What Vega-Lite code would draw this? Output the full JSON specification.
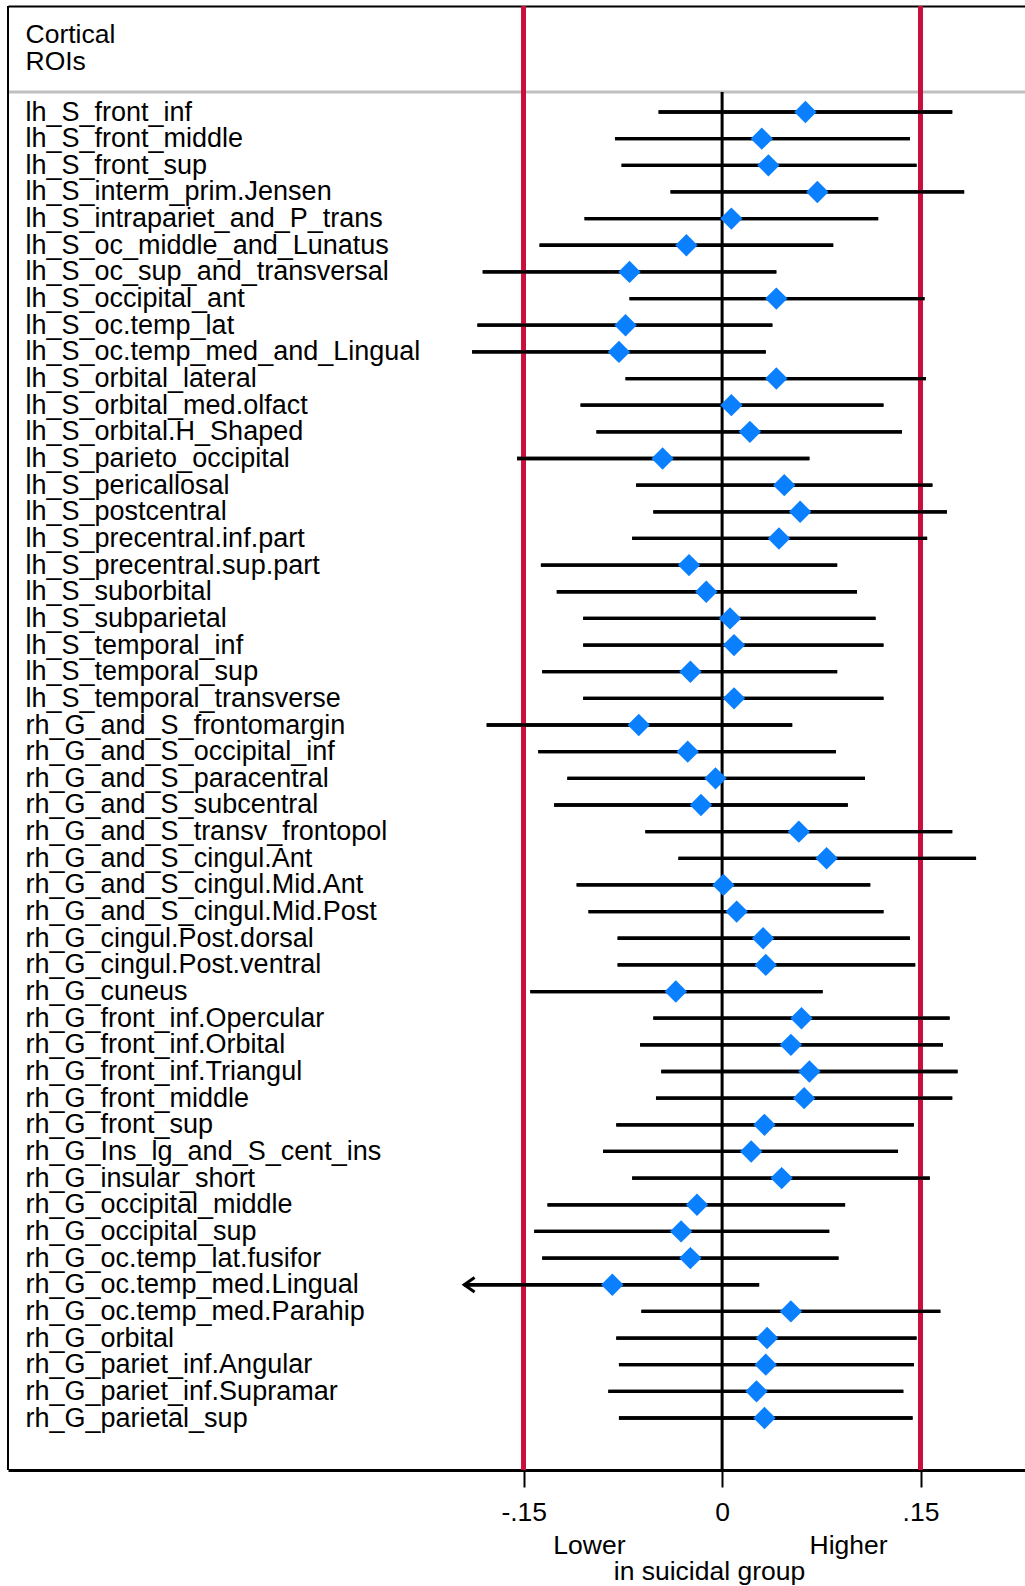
{
  "$schema": "https://vega.github.io/schema/vega-lite/v6.json",
  "width": 1017,
  "height": 1464,
  "autosize": {"type": "none"},
  "padding": {"left": 8, "top": 6, "right": 0, "bottom": 116},
  "background": "white",
  "config": {"view": {"stroke": null}, "font": "Liberation Sans"},
  "data": {"values": [
    {"roi": "lh_S_front_inf", "lo": -0.048, "est": 0.063, "hi": 0.174},
    {"roi": "lh_S_front_middle", "lo": -0.081, "est": 0.030, "hi": 0.142},
    {"roi": "lh_S_front_sup", "lo": -0.076, "est": 0.035, "hi": 0.147},
    {"roi": "lh_S_interm_prim.Jensen", "lo": -0.039, "est": 0.072, "hi": 0.183},
    {"roi": "lh_S_intrapariet_and_P_trans", "lo": -0.104, "est": 0.007, "hi": 0.118},
    {"roi": "lh_S_oc_middle_and_Lunatus", "lo": -0.138, "est": -0.027, "hi": 0.084},
    {"roi": "lh_S_oc_sup_and_transversal", "lo": -0.181, "est": -0.070, "hi": 0.041},
    {"roi": "lh_S_occipital_ant", "lo": -0.070, "est": 0.041, "hi": 0.153},
    {"roi": "lh_S_oc.temp_lat", "lo": -0.185, "est": -0.073, "hi": 0.038},
    {"roi": "lh_S_oc.temp_med_and_Lingual", "lo": -0.189, "est": -0.078, "hi": 0.033},
    {"roi": "lh_S_orbital_lateral", "lo": -0.073, "est": 0.041, "hi": 0.154},
    {"roi": "lh_S_orbital_med.olfact", "lo": -0.107, "est": 0.007, "hi": 0.122},
    {"roi": "lh_S_orbital.H_Shaped", "lo": -0.095, "est": 0.021, "hi": 0.136},
    {"roi": "lh_S_parieto_occipital", "lo": -0.155, "est": -0.045, "hi": 0.066},
    {"roi": "lh_S_pericallosal", "lo": -0.065, "est": 0.047, "hi": 0.159},
    {"roi": "lh_S_postcentral", "lo": -0.052, "est": 0.059, "hi": 0.170},
    {"roi": "lh_S_precentral.inf.part", "lo": -0.068, "est": 0.043, "hi": 0.155},
    {"roi": "lh_S_precentral.sup.part", "lo": -0.137, "est": -0.025, "hi": 0.087},
    {"roi": "lh_S_suborbital", "lo": -0.125, "est": -0.012, "hi": 0.102},
    {"roi": "lh_S_subparietal", "lo": -0.105, "est": 0.006, "hi": 0.116},
    {"roi": "lh_S_temporal_inf", "lo": -0.105, "est": 0.009, "hi": 0.122},
    {"roi": "lh_S_temporal_sup", "lo": -0.136, "est": -0.024, "hi": 0.087},
    {"roi": "lh_S_temporal_transverse", "lo": -0.105, "est": 0.009, "hi": 0.122},
    {"roi": "rh_G_and_S_frontomargin", "lo": -0.178, "est": -0.063, "hi": 0.053},
    {"roi": "rh_G_and_S_occipital_inf", "lo": -0.139, "est": -0.026, "hi": 0.086},
    {"roi": "rh_G_and_S_paracentral", "lo": -0.117, "est": -0.005, "hi": 0.108},
    {"roi": "rh_G_and_S_subcentral", "lo": -0.127, "est": -0.016, "hi": 0.095},
    {"roi": "rh_G_and_S_transv_frontopol", "lo": -0.058, "est": 0.058, "hi": 0.174},
    {"roi": "rh_G_and_S_cingul.Ant", "lo": -0.033, "est": 0.079, "hi": 0.192},
    {"roi": "rh_G_and_S_cingul.Mid.Ant", "lo": -0.110, "est": 0.001, "hi": 0.112},
    {"roi": "rh_G_and_S_cingul.Mid.Post", "lo": -0.101, "est": 0.011, "hi": 0.122},
    {"roi": "rh_G_cingul.Post.dorsal", "lo": -0.079, "est": 0.031, "hi": 0.142},
    {"roi": "rh_G_cingul.Post.ventral", "lo": -0.079, "est": 0.033, "hi": 0.146},
    {"roi": "rh_G_cuneus", "lo": -0.145, "est": -0.035, "hi": 0.076},
    {"roi": "rh_G_front_inf.Opercular", "lo": -0.052, "est": 0.060, "hi": 0.172},
    {"roi": "rh_G_front_inf.Orbital", "lo": -0.062, "est": 0.052, "hi": 0.167},
    {"roi": "rh_G_front_inf.Triangul", "lo": -0.046, "est": 0.066, "hi": 0.178},
    {"roi": "rh_G_front_middle", "lo": -0.050, "est": 0.062, "hi": 0.174},
    {"roi": "rh_G_front_sup", "lo": -0.080, "est": 0.032, "hi": 0.145},
    {"roi": "rh_G_Ins_lg_and_S_cent_ins", "lo": -0.090, "est": 0.022, "hi": 0.133},
    {"roi": "rh_G_insular_short", "lo": -0.068, "est": 0.045, "hi": 0.157},
    {"roi": "rh_G_occipital_middle", "lo": -0.132, "est": -0.019, "hi": 0.093},
    {"roi": "rh_G_occipital_sup", "lo": -0.142, "est": -0.031, "hi": 0.081},
    {"roi": "rh_G_oc.temp_lat.fusifor", "lo": -0.136, "est": -0.024, "hi": 0.088},
    {"roi": "rh_G_oc.temp_med.Lingual", "lo": -0.195, "est": -0.083, "hi": 0.028, "truncated": true},
    {"roi": "rh_G_oc.temp_med.Parahip", "lo": -0.061, "est": 0.052, "hi": 0.165},
    {"roi": "rh_G_orbital", "lo": -0.080, "est": 0.034, "hi": 0.147},
    {"roi": "rh_G_pariet_inf.Angular", "lo": -0.078, "est": 0.033, "hi": 0.145},
    {"roi": "rh_G_pariet_inf.Supramar", "lo": -0.086, "est": 0.026, "hi": 0.137},
    {"roi": "rh_G_parietal_sup", "lo": -0.078, "est": 0.032, "hi": 0.144}
  ]},
  "layer": [
    {
      "mark": {"type": "rule", "color": "black", "strokeWidth": 3.3},
      "encoding": {
        "x": {"field": "lo", "type": "quantitative",
              "scale": {"domain": [-0.5399, 0.229], "nice": false, "zero": false},
              "axis": {"orient": "bottom", "values": [-0.15, 0, 0.15],
                       "labelExpr": "datum.value == 0 ? '0' : (datum.value < 0 ? '-' : '') + replace(format(abs(datum.value), '.2f'), '0.', '.')",
                       "domainColor": "black", "domainWidth": 3, "tickColor": "black", "tickWidth": 2, "tickSize": 17,
                       "labelFontSize": 26.5, "labelColor": "black", "labelFont": "Liberation Sans", "labelPadding": 12, "labelFlush": false,
                       "grid": false,
                       "title": "Lower\u00a0\u00a0\u00a0\u00a0\u00a0\u00a0\u00a0\u00a0\u00a0\u00a0\u00a0\u00a0\u00a0\u00a0\u00a0\u00a0\u00a0\u00a0\u00a0\u00a0\u00a0\u00a0\u00a0\u00a0\u00a0Higher",
                       "titleFontSize": 26.5, "titleFontWeight": "normal", "titleColor": "black", "titleFont": "Liberation Sans",
                       "titlePadding": 7, "titleX": 712, "titleAlign": "center"}},
        "x2": {"field": "hi"},
        "y": {"field": "roi", "type": "nominal", "sort": null,
              "scale": {"type": "point", "range": [106, 1412], "padding": 0},
              "axis": {"orient": "left", "domain": false, "ticks": false, "tickSize": 0,
                       "labelAlign": "left", "labelBaseline": "middle", "labelPadding": -17, "labelFontSize": 27, "labelColor": "black",
                       "labelFont": "Liberation Sans", "labelLimit": 600, "labelOverlap": false, "labelBound": false, "grid": false,
                       "title": ["Cortical", "ROIs"], "titleAngle": 0, "titleAlign": "left", "titleBaseline": "alphabetic",
                       "titleX": 17, "titleY": 36, "titleFontSize": 26.5, "titleFontWeight": "normal", "titleColor": "black",
                       "titleFont": "Liberation Sans", "titleLineHeight": 27}}
      }
    },
    {
      "transform": [{"filter": "datum.roi == 'lh_S_front_inf'"}],
      "mark": {"type": "rule", "color": "#c0c0c0", "strokeWidth": 3, "yOffset": -20},
      "encoding": {"y": {"field": "roi", "type": "nominal", "sort": null}}
    },
    {
      "mark": {"type": "rule", "color": "black", "strokeWidth": 2},
      "encoding": {"x": {"datum": -0.5399, "type": "quantitative", "axis": null}}
    },
    {
      "mark": {"type": "rule", "color": "#c8103e", "strokeWidth": 3.5},
      "encoding": {"x": {"datum": -0.15, "type": "quantitative",
        "axis": {"orient": "bottom", "domain": false, "ticks": false, "labels": false, "grid": false,
                 "title": "in suicidal group", "titleFontSize": 26.5, "titleFontWeight": "normal", "titleColor": "black",
                 "titleFont": "Liberation Sans", "titlePadding": 88, "titleX": 701, "titleAlign": "center"}}}
    },
    {
      "mark": {"type": "rule", "color": "#c8103e", "strokeWidth": 3.5},
      "encoding": {"x": {"datum": 0.15, "type": "quantitative", "axis": null}}
    },
    {
      "transform": [{"filter": "datum.roi == 'lh_S_front_inf'"}],
      "mark": {"type": "rule", "color": "black", "strokeWidth": 3, "yOffset": -20},
      "encoding": {
        "x": {"datum": 0, "type": "quantitative",
              "axis": {"orient": "top", "domain": true, "domainColor": "black", "domainWidth": 2, "ticks": false, "labels": false, "title": null, "grid": false}},
        "y": {"field": "roi", "type": "nominal", "sort": null},
        "y2": {"value": "height"}
      }
    },
    {
      "mark": {"type": "rule", "color": "black", "strokeWidth": 3.3},
      "encoding": {
        "x": {"field": "lo", "type": "quantitative", "axis": null},
        "x2": {"field": "hi"},
        "y": {"field": "roi", "type": "nominal", "sort": null}
      }
    },
    {
      "mark": {"type": "point", "shape": "diamond", "filled": true, "size": 500, "color": "#0a80ff", "opacity": 1},
      "encoding": {
        "x": {"field": "est", "type": "quantitative", "axis": null},
        "y": {"field": "roi", "type": "nominal", "sort": null}
      }
    },
    {
      "transform": [{"filter": "datum.truncated"}],
      "mark": {"type": "point", "shape": "M1.3,-0.9L0,0L1.3,0.9", "filled": false, "size": 256, "color": "black", "strokeWidth": 3, "opacity": 1},
      "encoding": {
        "x": {"field": "lo", "type": "quantitative", "axis": null},
        "y": {"field": "roi", "type": "nominal", "sort": null}
      }
    }
  ],
  "resolve": {"axis": {"x": "independent"}}
}
